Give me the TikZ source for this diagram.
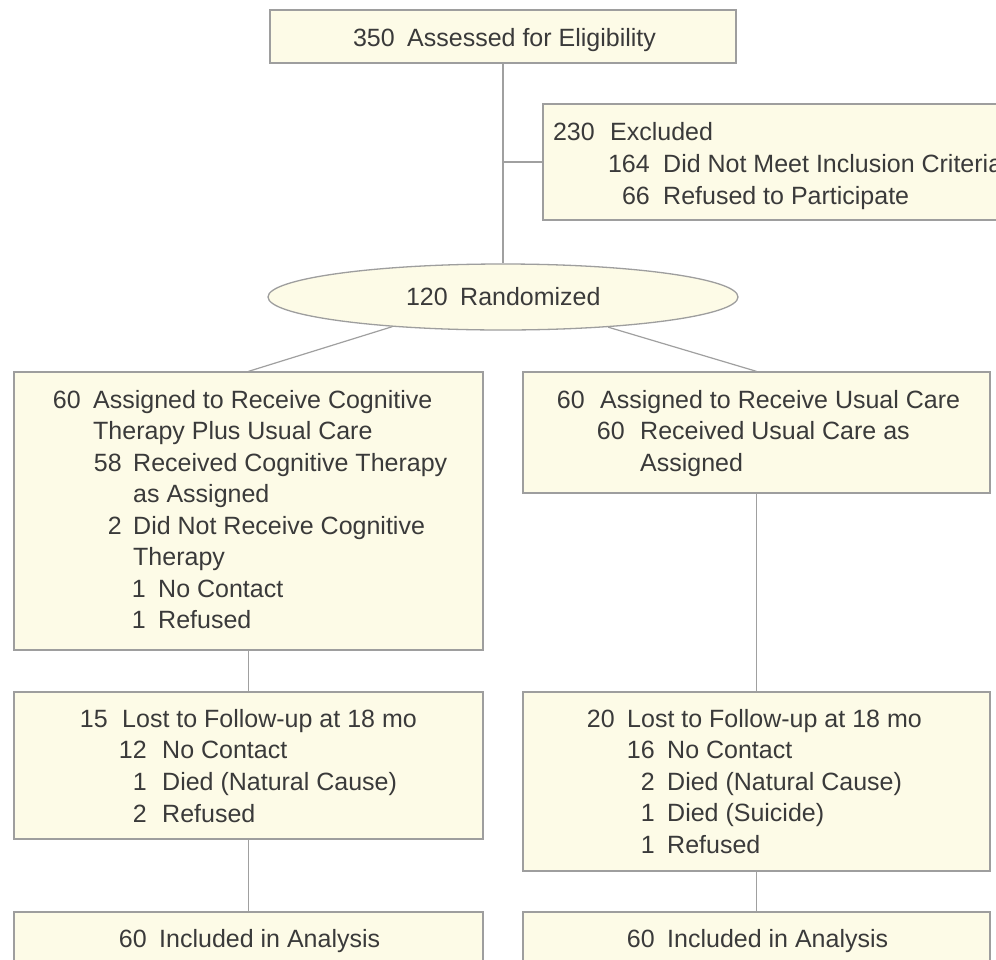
\documentclass[tikz,border=0pt]{standalone}
\usepackage{fontspec}
\setmainfont{Liberation Sans}
\usetikzlibrary{shapes.geometric}
\definecolor{boxfill}{HTML}{FDFBE7}
\definecolor{boxline}{HTML}{9E9E9E}
\definecolor{linkline}{HTML}{A0A0A0}
\definecolor{txtcol}{HTML}{3A3A3A}
\tikzset{
  flowbox/.style={rectangle, draw=boxline, fill=boxfill, line width=1.3pt, inner sep=0pt},
  flowoval/.style={ellipse, draw=boxline, fill=boxfill, line width=1.3pt, inner sep=0pt},
  link/.style={draw=linkline, line width=1.2pt},
  numtxt/.style={anchor=base east, inner sep=0pt, text=txtcol, font=\fontsize{25}{30}\selectfont},
  bodytxt/.style={anchor=base west, inner sep=0pt, text=txtcol, font=\fontsize{25}{30}\selectfont},
}
\newcommand\rowentry[6]{%
  \node[numtxt] (#1n) at (#3,#2) {#4};
  \node[bodytxt] (#1t) at (#5,#2) {#6};}
\newcommand\rowplain[4]{%
  \node[bodytxt] (#1t) at (#3,#2) {#4};}
\begin{document}
\begin{tikzpicture}[x=1pt,y=-1pt]
\useasboundingbox (0,0) rectangle (996,959);
\fill[white] (0,0) rectangle (996,959);
\clip (0,0) rectangle (996,959);

% boxes
\node[flowbox, minimum width=466pt, minimum height=53pt] (top) at (503,36.5) {};
\node[flowbox, minimum width=472pt, minimum height=116pt] (excl) at (779,162) {};
\node[flowoval, minimum width=470pt, minimum height=66pt] (rand) at (503,297) {};
\node[flowbox, minimum width=469pt, minimum height=278pt] (lbone) at (248.5,511) {};
\node[flowbox, minimum width=467pt, minimum height=121pt] (rbone) at (756.5,432.5) {};
\node[flowbox, minimum width=469pt, minimum height=147pt] (lbtwo) at (248.5,765.5) {};
\node[flowbox, minimum width=467pt, minimum height=179pt] (rbtwo) at (756.5,781.5) {};
\node[flowbox, minimum width=469pt, minimum height=80pt] (lbthree) at (248.5,952) {};
\node[flowbox, minimum width=467pt, minimum height=80pt] (rbthree) at (756.5,952) {};

% connectors
\coordinate (junc) at (503,162);
\draw[link] (top.south) -- (rand.north);
\draw[link] (junc) -- (excl.west);
\draw[link] (rand.195.7) -- (lbone.north);
\draw[link] (rand.344.7) -- (rbone.north);
\draw[link] (lbone.south) -- (lbtwo.north);
\draw[link] (lbtwo.south) -- (lbthree.north);
\draw[link] (rbone.south) -- (rbtwo.north);
\draw[link] (rbtwo.south) -- (rbthree.north);

% top
\rowentry{ta}{46}{395}{350}{407}{Assessed for Eligibility}
% excluded
\rowentry{ea}{140}{595}{230}{610}{Excluded}
\rowentry{eb}{172}{650}{164}{663}{Did Not Meet Inclusion Criteria}
\rowentry{ec}{204}{650}{66}{663}{Refused to Participate}
% randomized
\rowentry{ra}{305}{448}{120}{460}{Randomized}
% left box 1
\rowentry{la}{408}{81}{60}{93}{Assigned to Receive Cognitive}
\rowplain{lb}{439.5}{93}{Therapy Plus Usual Care}
\rowentry{lc}{471}{122}{58}{133}{Received Cognitive Therapy}
\rowplain{ld}{502.5}{133}{as Assigned}
\rowentry{le}{534}{122}{2}{133}{Did Not Receive Cognitive}
\rowplain{lf}{565.5}{133}{Therapy}
\rowentry{lg}{597}{146}{1}{158}{No Contact}
\rowentry{lh}{628.5}{146}{1}{158}{Refused}
% right box 1
\rowentry{ma}{408}{585}{60}{600}{Assigned to Receive Usual Care}
\rowentry{mb}{439.5}{625}{60}{640}{Received Usual Care as}
\rowplain{mc}{471}{640}{Assigned}
% left box 2
\rowentry{pa}{727}{108}{15}{122}{Lost to Follow-up at 18 mo}
\rowentry{pb}{758.7}{147}{12}{162}{No Contact}
\rowentry{pc}{790.3}{147}{1}{162}{Died (Natural Cause)}
\rowentry{pd}{822}{147}{2}{162}{Refused}
% right box 2
\rowentry{qa}{727}{615}{20}{627}{Lost to Follow-up at 18 mo}
\rowentry{qb}{758.5}{655}{16}{667}{No Contact}
\rowentry{qc}{790}{655}{2}{667}{Died (Natural Cause)}
\rowentry{qd}{821.5}{655}{1}{667}{Died (Suicide)}
\rowentry{qe}{853}{655}{1}{667}{Refused}
% bottom
\rowentry{ua}{947}{147}{60}{159}{Included in Analysis}
\rowentry{va}{947}{655}{60}{667}{Included in Analysis}
\end{tikzpicture}
\end{document}
